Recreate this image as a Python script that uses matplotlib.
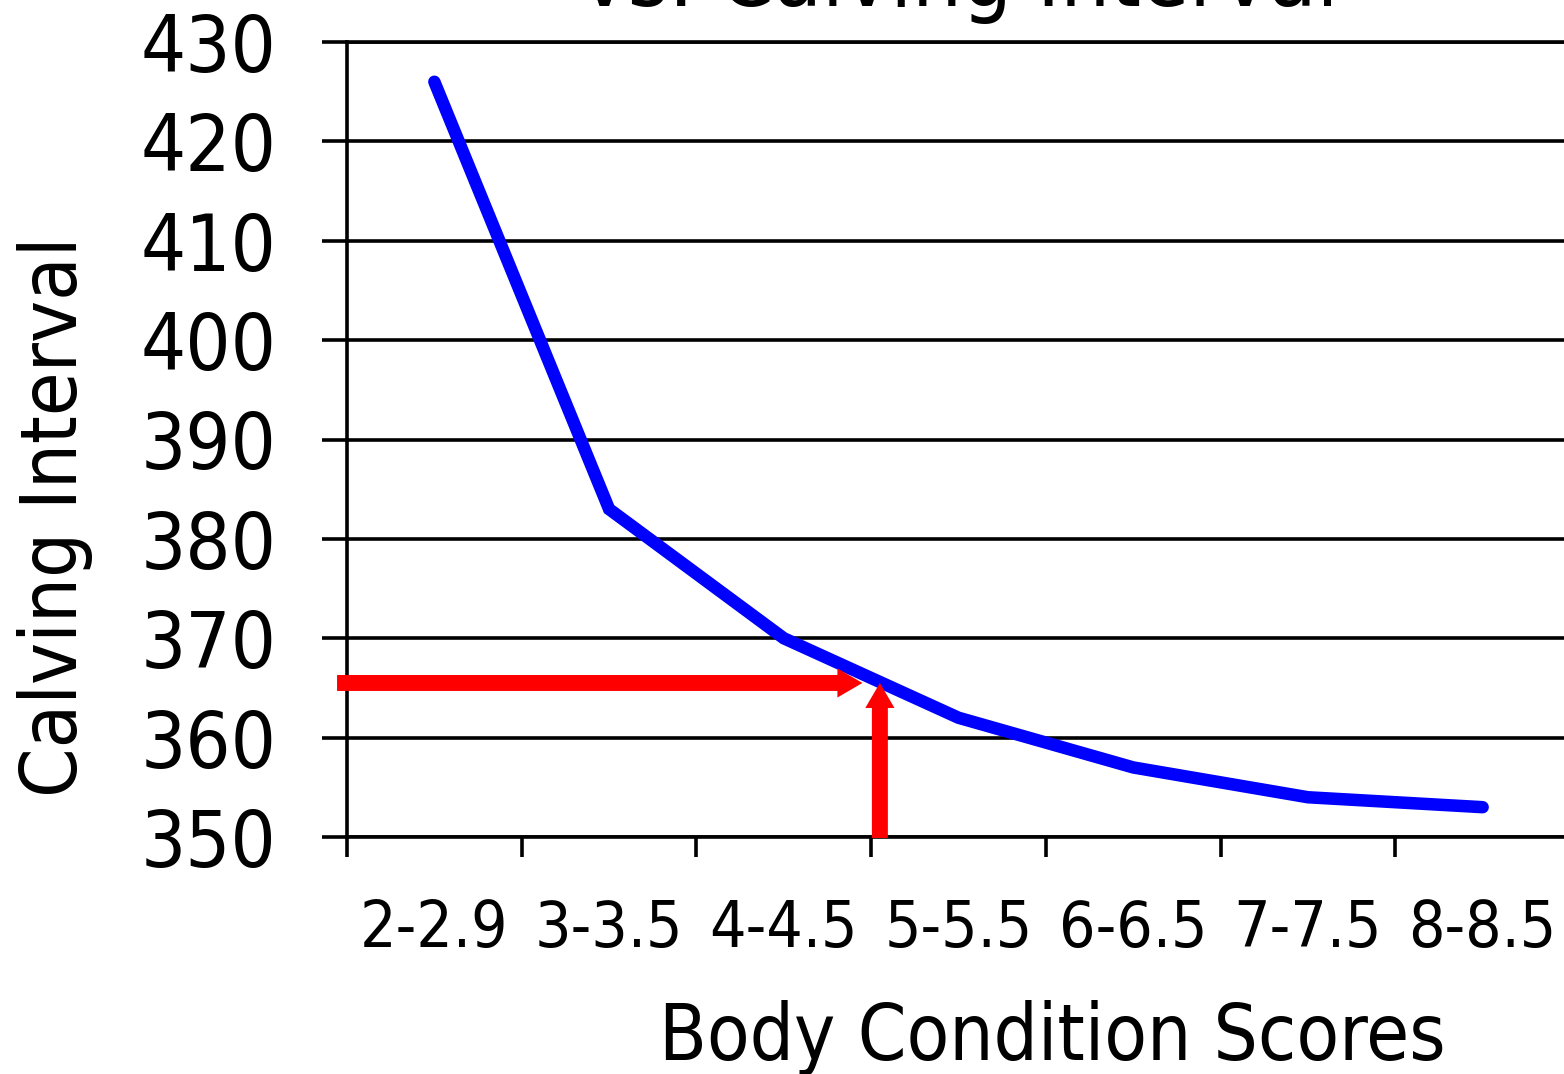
import matplotlib
matplotlib.use("Agg")
import matplotlib.pyplot as plt
from matplotlib.ticker import FixedLocator, NullFormatter

plt.rcParams['font.family'] = ['DejaVu Sans']
plt.rcParams['font.stretch'] = 'condensed'

# ---- data ----
categories = ['2-2.9', '3-3.5', '4-4.5', '5-5.5', '6-6.5', '7-7.5', '8-8.5']
calving_interval = [426, 383, 370, 362, 357, 354, 353]
y_ticks = [350, 360, 370, 380, 390, 400, 410, 420, 430]
marker_bcs = 2.55        # position of the vertical red arrow (between 4-4.5 and 5-5.5)
marker_ci = 365.5
title_text = 'vs. Calving Interval'
x_label = 'Body Condition Scores'
y_label = 'Calving Interval'

W, H = 1564, 1074
fig = plt.figure(figsize=(W / 100, H / 100), dpi=100)
ax = fig.add_axes([347 / W, (H - 837) / H, (1570 - 347) / W, (837 - 42) / H])

x = list(range(len(categories)))
ax.plot(x, calving_interval, color='#0000ff', lw=9, solid_capstyle='round',
        solid_joinstyle='miter', zorder=3)

ax.set_xlim(-0.5, len(categories) - 0.5)
ax.set_ylim(y_ticks[0], y_ticks[-1])

# y axis
ax.set_yticks(y_ticks)
ax.set_yticklabels([str(v) for v in y_ticks])
ax.tick_params(axis='y', which='major', direction='out', length=18, width=2.6,
               pad=33, labelsize=57, colors='black')
ax.yaxis.grid(True, color='black', lw=2.6)

# x axis: ticks at category boundaries, labels at category centres
ax.xaxis.set_major_locator(FixedLocator([i - 0.5 for i in range(len(categories) + 1)]))
ax.xaxis.set_major_formatter(NullFormatter())
ax.xaxis.set_minor_locator(FixedLocator(x))
ax.set_xticklabels(categories, minor=True)
ax.tick_params(axis='x', which='major', direction='out', length=14.5, width=2.6)
ax.tick_params(axis='x', which='minor', length=0, pad=44, labelsize=46)

for side in ['left', 'top', 'bottom']:
    ax.spines[side].set_linewidth(2.6)
    ax.spines[side].set_color('black')
ax.spines['right'].set_visible(False)

# red arrows
arrow_style = 'simple,head_length=18,head_width=21,tail_width=11.5'
ax.annotate('', xy=(marker_bcs - 0.1, marker_ci), xytext=(-0.557, marker_ci),
            arrowprops=dict(arrowstyle=arrow_style, mutation_scale=1, color='#ff0000',
                            lw=0, shrinkA=0, shrinkB=0), zorder=4, annotation_clip=False)
ax.annotate('', xy=(marker_bcs, marker_ci), xytext=(marker_bcs, y_ticks[0] - 0.1),
            arrowprops=dict(arrowstyle=arrow_style, mutation_scale=1, color='#ff0000',
                            lw=0, shrinkA=0, shrinkB=0), zorder=4, annotation_clip=False)

# labels
fig.text(1052 / W, (H - 1060) / H, x_label, ha='center', va='baseline', fontsize=56)
fig.text(17 / W, (H - 517) / H, y_label, rotation=90, ha='left', va='center', fontsize=57)
fig.text(960 / W, (H - 6) / H, title_text, ha='center', va='baseline', fontsize=63)

fig.savefig('out.png', dpi=100)
